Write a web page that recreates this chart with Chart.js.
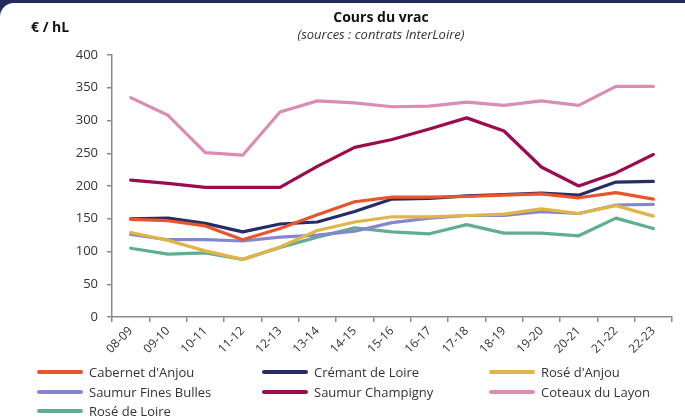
<!DOCTYPE html>
<html>
<head>
<meta charset="utf-8">
<script src="https://cdn.jsdelivr.net/npm/chart.js@4"></script>
<style>
  html, body { margin: 0; padding: 0; }
  body { width: 685px; height: 420px; background: #232a5e; overflow: hidden; font-family: "Open Sans", sans-serif; }
  #card { position: absolute; left: 0; top: 3px; width: 685px; height: 417px; background: #fff; border-top-left-radius: 14px; }
  #chart-box { position: absolute; left: 0; top: -3px; width: 685px; height: 365px; }
  .title { position: absolute; left: 281px; width: 200px; text-align: center; color: #111; }
  #t1 { top: 4px; font-weight: bold; font-size: 14px; }
  #t2 { top: 22px; font-style: italic; font-size: 13px; color: #333; left: 231px; width: 300px; }
  #unit { position: absolute; left: 31px; top: 14px; font-weight: bold; font-size: 14px; color: #111; }
  #legend { position: absolute; left: 37px; top: 360px; width: 660px; }
  .item { position: absolute; display: flex; align-items: center; font-size: 13px; color: #333; white-space: nowrap; }
  .item span.sw { display: inline-block; width: 46px; height: 4px; border-radius: 2px; margin-right: 6px; }
</style>
</head>
<body>
<div id="card">
  <div id="chart-box"><canvas id="vrac"></canvas></div>
  <div class="title" id="t1">Cours du vrac</div>
  <div class="title" id="t2">(sources : contrats InterLoire)</div>
  <div id="unit">€ / hL</div>
  <div id="legend"></div>
</div>
<script>
// campagnes
var campagnes = ["08-09", "09-10", "10-11", "11-12", "12-13", "13-14", "14-15", "15-16",
                 "16-17", "17-18", "18-19", "19-20", "20-21", "21-22", "22-23"];

// prix en € / hL
var cabernetAnjou   = [149, 147, 139, 118, 135, 156, 176, 183, 183, 184, 186, 188, 182, 190, 180];
var cremantLoire    = [150, 151, 143, 130, 142, 145, 161, 180, 181, 185, 187, 189, 186, 206, 207];
var roseAnjou       = [129, 117, 101, 88, 107, 132, 145, 153, 153, 155, 157, 165, 158, 170, 154];
var saumurBulles    = [126, 118, 118, 116, 122, 125, 131, 144, 151, 155, 155, 161, 158, 171, 172];
var saumurChampigny = [209, 204, 198, 198, 198, 230, 259, 271, 287, 304, 284, 229, 200, 220, 248];
var coteauxLayon    = [335, 308, 251, 247, 313, 330, 327, 321, 322, 328, 323, 330, 323, 352, 352];
var roseLoire       = [105, 96, 98, 88, 106, 122, 136, 130, 127, 141, 128, 128, 124, 151, 135];

var yTicks = [0, 50, 100, 150, 200, 250, 300, 350, 400];

var series = [
    { label: "Cabernet d'Anjou", data: cabernetAnjou, color: "#e8542c" },
    { label: "Crémant de Loire", data: cremantLoire, color: "#262d66" },
    { label: "Rosé d'Anjou", data: roseAnjou, color: "#e2b445" },
    { label: "Saumur Fines Bulles", data: saumurBulles, color: "#8586d0" },
    { label: "Saumur Champigny", data: saumurChampigny, color: "#9c0a50" },
    { label: "Coteaux du Layon", data: coteauxLayon, color: "#d98db5" },
    { label: "Rosé de Loire", data: roseLoire, color: "#5fae8e" }
];

var axisColor = "#8a8a8a";
var tickFont = { family: "Open Sans", size: 13 };

var ctx = document.getElementById("vrac").getContext("2d");
var chart = new Chart(ctx, {
    type: "line",
    data: {
        labels: campagnes,
        datasets: series.map(function(s) {
            return {
                label: s.label,
                data: s.data,
                borderColor: s.color,
                backgroundColor: s.color,
                borderWidth: 3.2,
                pointRadius: 0,
                tension: 0,
                borderCapStyle: "round",
                borderJoinStyle: "round"
            };
        })
    },
    options: {
        responsive: true,
        maintainAspectRatio: false,
        animation: false,
        layout: { padding: { top: 55, right: 13, left: 0, bottom: 0 } },
        plugins: {
            legend: { display: false },
            tooltip: { enabled: false }
        },
        scales: {
            x: {
                offset: true,
                grid: { offset: true, drawOnChartArea: false, drawTicks: true, tickLength: 5, color: axisColor, lineWidth: 1.5 },
                border: { color: axisColor, width: 1.5 },
                ticks: { color: "#333", font: { family: "Open Sans", size: 12 }, minRotation: 45, maxRotation: 45, autoSkip: false, padding: 2 },
                afterFit: function(scale) { scale.height = 48; }
            },
            y: {
                min: 0,
                max: 400,
                afterBuildTicks: function(scale) {
                    scale.ticks = yTicks.map(function(v) { return { value: v }; });
                },
                grid: { drawOnChartArea: false, drawTicks: true, tickLength: 5, color: axisColor, lineWidth: 1.5 },
                border: { color: axisColor, width: 1.5 },
                ticks: { color: "#333", font: tickFont, padding: 9 },
                afterFit: function(scale) { scale.width = 112; }
            }
        }
    }
});

// legende en grille de 3 colonnes
var legend = document.getElementById("legend");
var colX = [0, 225, 452];
var rowY = [0, 20, 39];
chart.data.datasets.forEach(function(ds, i) {
    var item = document.createElement("div");
    item.className = "item";
    item.style.left = colX[i % 3] + "px";
    item.style.top = rowY[Math.floor(i / 3)] + "px";
    var sw = document.createElement("span");
    sw.className = "sw";
    sw.style.background = ds.borderColor;
    item.appendChild(sw);
    item.appendChild(document.createTextNode(ds.label));
    legend.appendChild(item);
});
</script>
</body>
</html>
